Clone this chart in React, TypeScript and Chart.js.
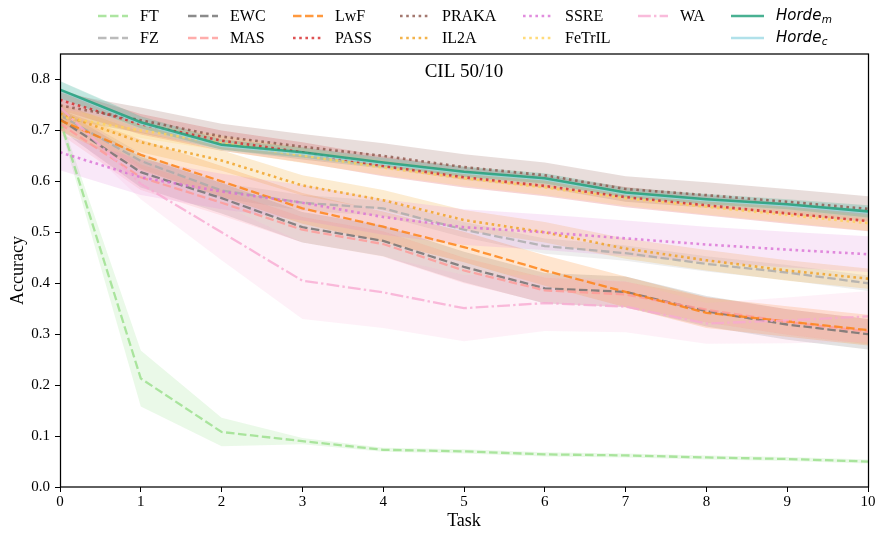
import React, { useEffect, useRef } from 'react';
import { Chart, registerables } from 'chart.js';
Chart.register(...registerables);

const tasks = [0, 1, 2, 3, 4, 5, 6, 7, 8, 9, 10];
const yTicks = [0, 0.1, 0.2, 0.3, 0.4, 0.5, 0.6, 0.7, 0.8];

const ft = [0.72, 0.213, 0.108, 0.09, 0.073, 0.07, 0.064, 0.062, 0.058, 0.055, 0.05];
const ftSd = [0.01, 0.055, 0.028, 0.006, 0.004, 0.004, 0.004, 0.004, 0.004, 0.004, 0.004];
const fz = [0.73, 0.64, 0.582, 0.558, 0.547, 0.505, 0.473, 0.459, 0.438, 0.421, 0.40];
const fzSd = [0.015, 0.015, 0.015, 0.015, 0.015, 0.015, 0.015, 0.015, 0.015, 0.015, 0.015];
const ewc = [0.722, 0.618, 0.567, 0.51, 0.483, 0.432, 0.39, 0.383, 0.345, 0.319, 0.30];
const ewcSd = [0.02, 0.03, 0.03, 0.03, 0.03, 0.03, 0.03, 0.03, 0.03, 0.03, 0.03];
const mas = [0.713, 0.608, 0.558, 0.505, 0.477, 0.425, 0.386, 0.378, 0.348, 0.324, 0.305];
const masSd = [0.02, 0.025, 0.025, 0.025, 0.025, 0.025, 0.025, 0.025, 0.025, 0.025, 0.025];
const lwf = [0.72, 0.652, 0.6, 0.547, 0.511, 0.471, 0.425, 0.383, 0.342, 0.325, 0.308];
const lwfSd = [0.02, 0.03, 0.03, 0.03, 0.03, 0.03, 0.03, 0.03, 0.03, 0.03, 0.03];
const pass = [0.76, 0.712, 0.68, 0.657, 0.63, 0.608, 0.591, 0.569, 0.553, 0.537, 0.522];
const passSd = [0.02, 0.02, 0.02, 0.02, 0.02, 0.02, 0.02, 0.02, 0.02, 0.02, 0.02];
const praka = [0.749, 0.72, 0.688, 0.668, 0.65, 0.628, 0.612, 0.585, 0.573, 0.56, 0.546];
const prakaSd = [0.025, 0.025, 0.025, 0.025, 0.025, 0.025, 0.025, 0.025, 0.025, 0.025, 0.025];
const il2a = [0.733, 0.677, 0.641, 0.592, 0.563, 0.524, 0.50, 0.468, 0.445, 0.425, 0.409];
const il2aSd = [0.02, 0.02, 0.02, 0.02, 0.02, 0.02, 0.02, 0.02, 0.02, 0.02, 0.02];
const ssre = [0.657, 0.608, 0.58, 0.558, 0.53, 0.51, 0.50, 0.488, 0.476, 0.466, 0.457];
const ssreSd = [0.035, 0.035, 0.035, 0.035, 0.035, 0.035, 0.035, 0.035, 0.035, 0.035, 0.035];
const fetril = [0.727, 0.70, 0.675, 0.651, 0.627, 0.606, 0.588, 0.567, 0.55, 0.534, 0.518];
const fetrilSd = [0.015, 0.015, 0.015, 0.015, 0.015, 0.015, 0.015, 0.015, 0.015, 0.015, 0.015];
const wa = [0.745, 0.595, 0.5, 0.405, 0.382, 0.351, 0.361, 0.354, 0.321, 0.327, 0.335];
const waSd = [0.03, 0.03, 0.055, 0.075, 0.07, 0.065, 0.055, 0.05, 0.04, 0.045, 0.05];
const hordeM = [0.78, 0.716, 0.672, 0.657, 0.637, 0.619, 0.606, 0.578, 0.565, 0.555, 0.541];
const hordeMSd = [0.017, 0.012, 0.01, 0.01, 0.01, 0.01, 0.01, 0.01, 0.01, 0.01, 0.012];
const hordeC = [0.779, 0.714, 0.67, 0.655, 0.635, 0.617, 0.604, 0.576, 0.563, 0.553, 0.539];
const hordeCSd = [0.017, 0.012, 0.01, 0.01, 0.01, 0.01, 0.01, 0.01, 0.01, 0.01, 0.012];

const DASH = [8.5, 3.5];
const DOT = [2.6, 3.6];
const DASHDOT = [12.8, 3.2, 2.4, 3.2];
const SOLID: number[] = [];

const methods = [
  { label: 'FT', data: ft, sd: ftSd, rgb: [152, 223, 138], dash: DASH },
  { label: 'FZ', data: fz, sd: fzSd, rgb: [170, 170, 170], dash: DASH },
  { label: 'EWC', data: ewc, sd: ewcSd, rgb: [110, 110, 110], dash: DASH },
  { label: 'MAS', data: mas, sd: masSd, rgb: [255, 152, 150], dash: DASH },
  { label: 'LwF', data: lwf, sd: lwfSd, rgb: [255, 127, 14], dash: DASH },
  { label: 'PASS', data: pass, sd: passSd, rgb: [214, 39, 40], dash: DOT },
  { label: 'PRAKA', data: praka, sd: prakaSd, rgb: [140, 86, 75], dash: DOT },
  { label: 'IL2A', data: il2a, sd: il2aSd, rgb: [240, 160, 30], dash: DOT },
  { label: 'SSRE', data: ssre, sd: ssreSd, rgb: [218, 112, 214], dash: DOT },
  { label: 'FeTrIL', data: fetril, sd: fetrilSd, rgb: [255, 210, 90], dash: DOT },
  { label: 'WA', data: wa, sd: waSd, rgb: [247, 170, 210], dash: DASHDOT },
  { label: 'Horde_c', data: hordeC, sd: hordeCSd, rgb: [158, 218, 229], dash: SOLID },
  { label: 'Horde_m', data: hordeM, sd: hordeMSd, rgb: [27, 158, 119], dash: SOLID },
];

const legendColumns = [['FT', 'FZ'], ['EWC', 'MAS'], ['LwF', 'PASS'], ['PRAKA', 'IL2A'], ['SSRE', 'FeTrIL'], ['WA'], ['Horde_m', 'Horde_c']];
const legendX = [98, 188, 293, 400, 523, 638, 731];
const legendRowY = [16, 38];

const rgba = (c: number[], a: number) => `rgba(${c[0]},${c[1]},${c[2]},${a})`;
const widthFor = (label: string, dash: number[]) => (label.startsWith('Horde') ? 2.6 : dash === DOT ? 2.6 : 2.3);

const decorPlugin = {
  id: 'decor',
  afterDatasetsDraw(chart: any) {
    const { ctx, chartArea } = chart;
    ctx.save();
    ctx.strokeStyle = '#000';
    ctx.lineWidth = 1.25;
    ctx.setLineDash([]);
    ctx.strokeRect(chartArea.left + 0.5, chartArea.top, chartArea.right - chartArea.left, chartArea.bottom - chartArea.top);
    ctx.fillStyle = '#000';
    ctx.font = '19px "Liberation Serif"';
    ctx.textAlign = 'center';
    ctx.textBaseline = 'middle';
    ctx.fillText('CIL 50/10', (chartArea.left + chartArea.right) / 2, chartArea.top + 18);
    ctx.restore();
  },
  afterDraw(chart: any) {
    const { ctx } = chart;
    ctx.save();
    legendColumns.forEach((col, ci) => {
      col.forEach((name, ri) => {
        const m = methods.find((mm) => mm.label === name)!;
        const x0 = legendX[ci];
        const y = legendRowY[ri];
        const isHorde = name.startsWith('Horde');
        const len = isHorde ? 33 : 30;
        ctx.beginPath();
        ctx.setLineDash(m.dash);
        ctx.lineWidth = widthFor(name, m.dash);
        ctx.strokeStyle = rgba(m.rgb, 0.8);
        ctx.moveTo(x0, y);
        ctx.lineTo(x0 + len, y);
        ctx.stroke();
        ctx.setLineDash([]);
        ctx.fillStyle = '#000';
        ctx.textAlign = 'left';
        ctx.textBaseline = 'middle';
        const tx = x0 + len + 12;
        if (isHorde) {
          ctx.font = 'italic 15px "DejaVu Sans"';
          ctx.fillText('Horde', tx, y);
          const w = ctx.measureText('Horde').width;
          ctx.font = 'italic 10.5px "DejaVu Sans"';
          ctx.fillText(name === 'Horde_m' ? 'm' : 'c', tx + w + 0.5, y + 4);
        } else {
          ctx.font = '16px "Liberation Serif"';
          ctx.fillText(name, tx, y + 1);
        }
      });
    });
    ctx.restore();
  },
};

export default function App() {
  const ref = useRef<HTMLCanvasElement | null>(null);
  useEffect(() => {
    if (!ref.current) return;
    const datasets: any[] = [];
    methods.forEach((m, k) => {
      datasets.push({
        label: m.label + ' lo',
        data: m.data.map((v, i) => v - m.sd[i]),
        borderWidth: 0,
        pointRadius: 0,
        fill: false,
        order: 1000 - 2 * k,
      });
      datasets.push({
        label: m.label + ' hi',
        data: m.data.map((v, i) => v + m.sd[i]),
        borderWidth: 0,
        pointRadius: 0,
        fill: '-1',
        backgroundColor: rgba(m.rgb, m.label === 'WA' || m.label === 'SSRE' ? 0.16 : 0.2),
        order: 1000 - 2 * k - 1,
      });
    });
    methods.forEach((m, k) => {
      datasets.push({
        label: m.label,
        data: m.data,
        borderColor: rgba(m.rgb, 0.8),
        borderDash: m.dash,
        borderWidth: widthFor(m.label, m.dash),
        pointRadius: 0,
        fill: false,
        tension: 0,
        order: 100 - k,
      });
    });
    const chart = new Chart(ref.current, {
      type: 'line',
      data: { labels: tasks, datasets },
      options: {
        animation: false,
        responsive: true,
        maintainAspectRatio: false,
        devicePixelRatio: 1,
        layout: { padding: { top: 54, right: 11, left: 0, bottom: 0 } },
        plugins: { legend: { display: false }, tooltip: { enabled: false }, title: { display: false } },
        scales: {
          x: {
            type: 'linear',
            min: 0,
            max: 10,
            afterFit: (s: any) => { s.height = 48; },
            ticks: { stepSize: 1, color: '#000', font: { family: 'Liberation Serif', size: 15 }, padding: 1, maxRotation: 0, autoSkip: false },
            grid: { drawOnChartArea: false, drawTicks: true, tickLength: 5, color: '#000' },
            border: { display: false },
            title: { display: true, text: 'Task', color: '#000', font: { family: 'Liberation Serif', size: 18 }, padding: { top: 0, bottom: 3 } },
          },
          y: {
            type: 'linear',
            min: 0,
            max: 0.85,
            afterFit: (s: any) => { s.width = 60; },
            afterBuildTicks: (s: any) => { s.ticks = yTicks.map((v) => ({ value: v })); },
            ticks: { color: '#000', font: { family: 'Liberation Serif', size: 15 }, padding: 5, callback: (v: any) => Number(v).toFixed(1) },
            grid: { drawOnChartArea: false, drawTicks: true, tickLength: 5, color: '#000' },
            border: { display: false },
            title: { display: true, text: 'Accuracy', color: '#000', font: { family: 'Liberation Serif', size: 18 }, padding: { top: 7, bottom: 0 } },
          },
        },
      },
      plugins: [decorPlugin],
    });
    return () => chart.destroy();
  }, []);
  return (
    <div style={{ position: 'fixed', left: 0, top: 0, width: 879, height: 535, background: '#fff' }}>
      <canvas ref={ref} />
    </div>
  );
}
